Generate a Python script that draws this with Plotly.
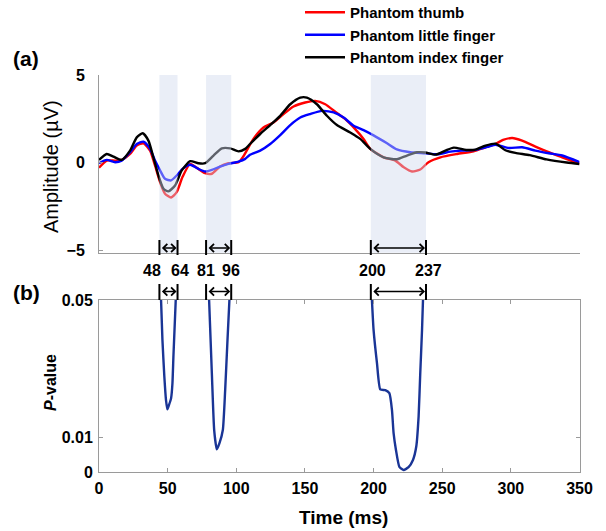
import plotly.graph_objects as go

# ---------------- data ----------------
series_names = ["Phantom thumb", "Phantom little finger", "Phantom index finger"]
series_colors = ["#ff0000", "#0000ff", "#000000"]

t_thumb = [0, 5.6, 11.7, 16.5, 22.6, 27.5, 32.4, 37.2, 40.8, 44.5, 48.1, 52.5, 56.6, 60.8, 66.4, 71.2,
           77.3, 82.2, 88.2, 94.3, 101.6, 105.2, 112.5, 119.8, 127.1, 134.4, 141.7, 150.2, 157.5, 164.8,
           172.1, 179.4, 186.6, 192.7, 197.6, 207.3, 215.8, 222, 228, 234, 240, 248.7, 260.8, 272.9,
           281.5, 288.8, 294.3, 301, 308.2, 317.9, 327.6, 337.4, 350]
v_thumb = [-0.30, 0.11, 0.11, 0.15, 0.49, 0.97, 1.10, 0.68, -0.17, -1.12, -1.78, -2.0, -1.69, -0.83, -0.08, -0.30,
           -0.61, -0.64, -0.23, -0.04, 0.02, 0.36, 1.35, 2.0, 2.29, 2.77, 3.2, 3.43, 3.52, 3.33,
           2.9, 2.48, 1.91, 1.35, 0.78, 0.3, 0.11, -0.27, -0.51, -0.4, 0.02, 0.3, 0.49, 0.64,
           0.87, 1.06, 1.29, 1.40, 1.25, 0.91, 0.59, 0.30, -0.08]

t_little = [0, 5.6, 11.7, 16.5, 22.6, 27.5, 32.4, 37.2, 40.8, 44.5, 48.1, 52.5, 56.6, 60.8, 66.4, 72.4,
            77.3, 82.2, 88.2, 94.3, 101.6, 106.5, 110, 117.4, 124.7, 132, 139.3, 146.6, 153.9, 162.4,
            170.9, 178.2, 185.5, 192.7, 200, 209.8, 217, 226.8, 237.7, 246.2, 256, 264.4, 274.2, 283.9,
            288.8, 298.5, 308.2, 317.9, 327.6, 337.4, 350]
v_little = [-0.04, 0.15, 0.02, 0.11, 0.59, 1.06, 1.19, 0.78, 0.11, -0.45, -0.93, -1.02, -0.74, -0.36, -0.13, -0.36,
            -0.51, -0.42, -0.23, -0.08, 0.05, 0.21, 0.44, 0.68, 1.06, 1.57, 2.14, 2.57, 2.77, 2.95,
            2.86, 2.57, 2.1, 1.85, 1.55, 1.1, 0.75, 0.59, 0.53, 0.47, 0.62, 0.68, 0.72, 0.91,
            1.02, 0.83, 0.87, 0.68, 0.53, 0.40, 0.02]

t_index = [0, 5.6, 10.5, 16.5, 22.6, 27.5, 31.9, 36, 39.6, 43.3, 47, 50.5, 55.4, 60.3, 66.4, 72.4,
           77.3, 83.4, 89.5, 95.5, 101.6, 106.5, 110, 117.4, 124.7, 132, 139.3, 146.6, 151.4, 158.7,
           166, 173.3, 183, 190.3, 197.6, 207.3, 217, 224.3, 231.6, 237.7, 245, 252.3, 258.4, 267.5,
           274.2, 281.5, 288.8, 296, 303.3, 313.8, 326, 340.7, 350]
v_index = [0.15, 0.49, 0.34, 0.15, 0.68, 1.44, 1.67, 1.25, 0.3, -0.74, -1.5, -1.65, -1.31, -0.45, 0.08, -0.04,
           -0.04, 0.4, 0.81, 0.81, 0.64, 0.78, 1.06, 1.63, 2.14, 2.67, 3.33, 3.71, 3.71, 3.33,
           2.67, 2.14, 1.72, 1.35, 0.78, 0.3, 0.19, 0.4, 0.59, 0.57, 0.45, 0.68, 0.85, 0.72,
           0.74, 0.97, 1.08, 0.70, 0.55, 0.42, 0.18, 0.0, -0.08]

# p-value curves (one per significant window)
p_t1 = [45.2, 46.2, 47.6, 48.8, 49.8, 51.0, 52.5, 53.5, 54.2, 55.9]
p_v1 = [0.05, 0.0384, 0.0277, 0.0209, 0.0182, 0.0195, 0.0214, 0.0258, 0.0335, 0.05]
p_t2 = [80.2, 82.2, 83.9, 85.8, 87.7, 90.2, 91.9, 93.6, 95.0]
p_v2 = [0.05, 0.0287, 0.0122, 0.0066, 0.0083, 0.0122, 0.0238, 0.0384, 0.05]
p_t3 = [198.8, 200, 202.5, 204.9, 208.5, 211.5, 213.4, 214.6, 216.3, 218.8, 221.9, 225.5,
        228.7, 231.1, 232.8, 234, 235.3, 236]
p_v3 = [0.05, 0.0413, 0.0316, 0.0240, 0.0238, 0.0229, 0.0180, 0.0112, 0.0064, 0.0015, 0.0006, 0.0014,
        0.0035, 0.0074, 0.0161, 0.0287, 0.0413, 0.05]

# significant windows (as drawn) and their labels
win_start = [44.0, 78.0, 198.0]
win_end = [57.2, 96.3, 238.2]
win_labels_start = ["48", "81", "200"]
win_labels_end = ["64", "96", "237"]

x_ticks = [0, 50, 100, 150, 200, 250, 300, 350]
amp_ticks = [-5, 0, 5]
p_ticks = [0, 0.01, 0.05]
p_ticktext = ["0", "0.01", "0.05"]

# ---------------- figure ----------------
W, H = 606, 531
FONT = "Liberation Sans, Arial, sans-serif"
AXC = "#9a9a9a"


def py(px):  # pixel row -> paper y
    return 1 - px / H


def pxx(px):
    return px / W


fig = go.Figure()

erp = [(t_thumb, v_thumb), (t_little, v_little), (t_index, v_index)]
for (tt, vv), name, col in zip(erp, series_names, series_colors):
    fig.add_trace(go.Scatter(x=tt, y=vv, name=name, mode="lines",
                             line=dict(color=col, width=2.4, shape="spline", smoothing=0.6),
                             xaxis="x", yaxis="y"))

for tt, vv in [(p_t1, p_v1), (p_t2, p_v2), (p_t3, p_v3)]:
    fig.add_trace(go.Scatter(x=tt, y=vv, mode="lines", showlegend=False,
                             line=dict(color="#1a3596", width=2.4, shape="spline", smoothing=0.5),
                             xaxis="x2", yaxis="y2"))

xdom = [pxx(99), pxx(579.5)]
shapes = []
annotations = []
for s, e in zip(win_start, win_end):
    shapes.append(dict(type="rect", xref="x", yref="y domain", x0=s, x1=e, y0=0, y1=1,
                       fillcolor="rgba(208,218,238,0.45)", line=dict(width=0), layer="above"))

# arrows with end bars, above and below the gap
for (yb0, yb1, ya) in [(240, 255, 248), (284, 300, 291.5)]:
    for s, e in zip(win_start, win_end):
        for xv in (s, e):
            shapes.append(dict(type="line", xref="x", yref="paper", x0=xv, x1=xv,
                               y0=py(yb0), y1=py(yb1), line=dict(color="black", width=2),
                               layer="above"))
        annotations.append(dict(x=e, y=py(ya), xref="x", yref="paper", ax=s, ay=0,
                                axref="x", ayref="pixel", text="", showarrow=True,
                                arrowside="end+start", arrowhead=4, startarrowhead=4,
                                arrowsize=1, startarrowsize=1, arrowwidth=1.6,
                                arrowcolor="black", standoff=1, startstandoff=1))

label_font = dict(family=FONT, size=16, color="black", weight=700)
shift_s = [-7, 0, 2]
shift_e = [2, 0, 2]
for s, e, ls, le, dxs, dxe in zip(win_start, win_end, win_labels_start, win_labels_end, shift_s, shift_e):
    annotations.append(dict(x=s, y=py(270), xref="x", yref="paper", text=ls, showarrow=False,
                            xshift=dxs, font=label_font, xanchor="center", yanchor="middle"))
    annotations.append(dict(x=e, y=py(270), xref="x", yref="paper", text=le, showarrow=False,
                            xshift=dxe, font=label_font, xanchor="center", yanchor="middle"))

# panel letters and axis titles
annotations += [
    dict(x=pxx(11), y=py(58), xref="paper", yref="paper", text="(a)", showarrow=False,
         xanchor="left", yanchor="middle", font=dict(family=FONT, size=21, color="black", weight=700)),
    dict(x=pxx(11), y=py(292), xref="paper", yref="paper", text="(b)", showarrow=False,
         xanchor="left", yanchor="middle", font=dict(family=FONT, size=21, color="black", weight=700)),
    dict(x=pxx(51), y=py(167), xref="paper", yref="paper", text="Amplitude (µV)", showarrow=False,
         textangle=-90, xanchor="center", yanchor="middle",
         font=dict(family=FONT, size=20, color="black")),
    dict(x=pxx(50), y=py(383), xref="paper", yref="paper", text="<i>P</i>-value", showarrow=False,
         textangle=-90, xanchor="center", yanchor="middle",
         font=dict(family=FONT, size=16, color="black", weight=700)),
    dict(x=pxx(343), y=py(517), xref="paper", yref="paper", text="Time (ms)", showarrow=False,
         xanchor="center", yanchor="middle",
         font=dict(family=FONT, size=19, color="black", weight=700)),
]

tick_font = dict(family=FONT, size=16, color="black", weight=700)

fig.update_layout(
    width=W, height=H,
    margin=dict(l=0, r=0, t=0, b=0, autoexpand=False),
    paper_bgcolor="white", plot_bgcolor="white",
    font=dict(family=FONT, color="black"),
    xaxis=dict(domain=xdom, range=[0, 350], anchor="y", showline=True, linecolor=AXC, linewidth=1,
               showgrid=False, zeroline=False, showticklabels=False, ticks="", automargin=False),
    yaxis=dict(domain=[py(252.7), py(75)], range=[-5.15, 5.0], anchor="x", showline=True,
               linecolor=AXC, linewidth=1, showgrid=False, zeroline=False, automargin=False,
               tickvals=amp_ticks, ticks="inside", ticklen=4, tickcolor=AXC,
               tickfont=tick_font, ticklabelstandoff=10),
    xaxis2=dict(domain=xdom, range=[0, 350], anchor="y2", showline=True, linecolor=AXC, linewidth=1,
                mirror="ticks", showgrid=False, zeroline=False, tickvals=x_ticks, ticks="inside",
                ticklen=4, tickcolor=AXC, tickfont=tick_font, ticklabelstandoff=2, automargin=False),
    yaxis2=dict(domain=[py(472), py(300)], range=[0, 0.05], anchor="x2", showline=True,
                linecolor=AXC, linewidth=1, mirror="ticks", showgrid=False, zeroline=False,
                tickvals=p_ticks, ticktext=p_ticktext, ticks="inside", ticklen=4, tickcolor=AXC,
                tickfont=tick_font, ticklabelstandoff=2, automargin=False),
    shapes=shapes,
    annotations=annotations,
    showlegend=True,
    legend=dict(x=pxx(300), y=py(-4), xanchor="left", yanchor="top",
                bgcolor="rgba(0,0,0,0)", font=dict(family=FONT, size=15, color="black", weight=700),
                tracegroupgap=0, itemwidth=40),
)

fig.write_html("out.html", config={"displayModeBar": False},
               post_script="document.body.style.margin='0';document.body.style.overflow='hidden';")
